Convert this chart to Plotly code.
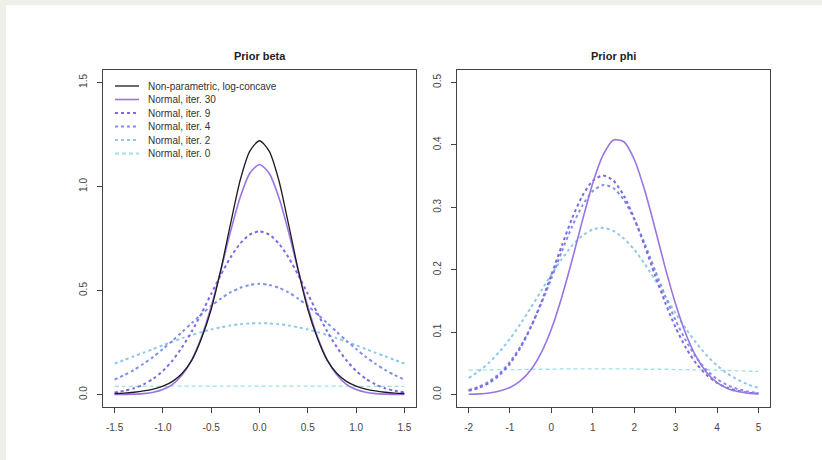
import plotly.graph_objects as go

W, H = 822, 460

# ---------------- data: Prior beta ----------------
BETA_X = [-1.5, -1.4, -1.3, -1.2, -1.1, -1.0, -0.9, -0.8, -0.7, -0.6, -0.5, -0.4, -0.3, -0.2, -0.1, 0.0,
          0.1, 0.2, 0.3, 0.4, 0.5, 0.6, 0.7, 0.8, 0.9, 1.0, 1.1, 1.2, 1.3, 1.4, 1.5]
BETA_NP = [0.005, 0.007, 0.011, 0.017, 0.026, 0.040, 0.063, 0.102, 0.165, 0.27, 0.41, 0.60, 0.82, 1.03, 1.17, 1.22,
           1.17, 1.03, 0.82, 0.60, 0.41, 0.27, 0.165, 0.102, 0.063, 0.040, 0.026, 0.017, 0.011, 0.007, 0.005]
BETA_IT30 = [0.0002, 0.0006, 0.0017, 0.0044, 0.011, 0.024, 0.049, 0.095, 0.168, 0.277, 0.423, 0.598, 0.783, 0.948, 1.064, 1.106,
             1.064, 0.948, 0.783, 0.598, 0.423, 0.277, 0.168, 0.095, 0.049, 0.024, 0.011, 0.0044, 0.0017, 0.0006, 0.0002]
BETA_IT9 = [0.010, 0.018, 0.030, 0.049, 0.076, 0.114, 0.164, 0.228, 0.304, 0.391, 0.484, 0.576, 0.659, 0.726, 0.769, 0.784,
            0.769, 0.726, 0.659, 0.576, 0.484, 0.391, 0.304, 0.228, 0.164, 0.114, 0.076, 0.049, 0.030, 0.018, 0.010]
BETA_IT4 = [0.072, 0.093, 0.118, 0.148, 0.181, 0.219, 0.259, 0.301, 0.344, 0.386, 0.426, 0.461, 0.491, 0.513, 0.527, 0.532,
            0.527, 0.513, 0.491, 0.461, 0.426, 0.386, 0.344, 0.301, 0.259, 0.219, 0.181, 0.148, 0.118, 0.093, 0.072]
BETA_IT2 = [0.149, 0.166, 0.184, 0.201, 0.219, 0.237, 0.254, 0.271, 0.286, 0.300, 0.313, 0.323, 0.332, 0.338, 0.342, 0.343,
            0.342, 0.338, 0.332, 0.323, 0.313, 0.300, 0.286, 0.271, 0.254, 0.237, 0.219, 0.201, 0.184, 0.166, 0.149]
BETA_IT0 = [0.039, 0.039, 0.039, 0.0395, 0.0395, 0.0395, 0.040, 0.040, 0.040, 0.040, 0.040, 0.040, 0.040, 0.040, 0.040, 0.040,
            0.040, 0.040, 0.040, 0.040, 0.040, 0.040, 0.040, 0.040, 0.040, 0.0395, 0.0395, 0.0395, 0.039, 0.039, 0.039]

# ---------------- data: Prior phi ----------------
PHI_X = [-2.0, -1.75, -1.5, -1.25, -1.0, -0.75, -0.5, -0.25, 0.0, 0.25, 0.5, 0.75, 1.0, 1.25, 1.5, 1.75,
         2.0, 2.25, 2.5, 2.75, 3.0, 3.25, 3.5, 3.75, 4.0, 4.25, 4.5, 4.75, 5.0]
PHI_IT30 = [0.0004, 0.0011, 0.0025, 0.0055, 0.0113, 0.0218, 0.0394, 0.0665, 0.105, 0.156, 0.2155, 0.279, 0.339, 0.384, 0.408,
            0.405, 0.377, 0.328, 0.267, 0.203, 0.145, 0.0965, 0.0602, 0.0352, 0.0192, 0.0098, 0.0047, 0.0021, 0.0009]
PHI_IT9 = [0.0059, 0.0108, 0.0188, 0.0313, 0.0495, 0.0747, 0.1074, 0.147, 0.1918, 0.2384, 0.2824, 0.3186, 0.3426, 0.351,
           0.3426, 0.3186, 0.2824, 0.2384, 0.1918, 0.147, 0.1074, 0.0747, 0.0495, 0.0313, 0.0188, 0.0108, 0.0059, 0.0031, 0.0015]
PHI_IT4 = [0.0072, 0.0126, 0.0212, 0.034, 0.0523, 0.0767, 0.1078, 0.1448, 0.1861, 0.2289, 0.2692, 0.303, 0.3261, 0.3358,
           0.3308, 0.3117, 0.281, 0.2423, 0.1999, 0.1577, 0.119, 0.086, 0.0594, 0.0392, 0.0248, 0.015, 0.0087, 0.0048, 0.0025]
PHI_IT2 = [0.0265, 0.0375, 0.0515, 0.0688, 0.0894, 0.1129, 0.1387, 0.1656, 0.1923, 0.2172, 0.2385, 0.2546, 0.2644, 0.267,
           0.262, 0.2501, 0.2322, 0.2095, 0.1839, 0.157, 0.1302, 0.1051, 0.0825, 0.0629, 0.0467, 0.0337, 0.0236, 0.0161, 0.0107]
PHI_IT0 = [0.039, 0.0395, 0.0395, 0.040, 0.040, 0.040, 0.0405, 0.0405, 0.0405, 0.041, 0.041, 0.041, 0.041, 0.041, 0.041,
           0.041, 0.041, 0.0405, 0.0405, 0.0405, 0.040, 0.040, 0.0395, 0.0395, 0.039, 0.0385, 0.038, 0.0375, 0.037]

# ---------------- labels / ticks ----------------
SERIES_NAMES = ["Non-parametric, log-concave", "Normal, iter. 30", "Normal, iter. 9",
                "Normal, iter. 4", "Normal, iter. 2", "Normal, iter. 0"]
PANEL_TITLES = ["Prior beta", "Prior phi"]
BETA_XTICKS = [-1.5, -1.0, -0.5, 0.0, 0.5, 1.0, 1.5]
BETA_XTICKTEXT = ["-1.5", "-1.0", "-0.5", "0.0", "0.5", "1.0", "1.5"]
BETA_YTICKS = [0.0, 0.5, 1.0, 1.5]
BETA_YTICKTEXT = ["0.0", "0.5", "1.0", "1.5"]
PHI_XTICKS = [-2, -1, 0, 1, 2, 3, 4, 5]
PHI_XTICKTEXT = ["-2", "-1", "0", "1", "2", "3", "4", "5"]
PHI_YTICKS = [0.0, 0.1, 0.2, 0.3, 0.4, 0.5]
PHI_YTICKTEXT = ["0.0", "0.1", "0.2", "0.3", "0.4", "0.5"]

# ---------------- styles ----------------
STYLES = {
    "Non-parametric, log-concave": dict(color="#1c1c1c", width=1.3, dash="solid"),
    "Normal, iter. 30": dict(color="#9a74e4", width=1.6, dash="solid"),
    "Normal, iter. 9": dict(color="#7a6ae4", width=2.0, dash="dot"),
    "Normal, iter. 4": dict(color="#7f8fe6", width=2.0, dash="dot"),
    "Normal, iter. 2": dict(color="#8fc8ec", width=2.0, dash="dot"),
    "Normal, iter. 0": dict(color="#9fe0e2", width=1.3, dash="4px,3px"),
}
FONT = "Liberation Sans, Arial, Helvetica, sans-serif"
AXCOL = "#444444"

fig = go.Figure()

beta_series = [("Normal, iter. 0", BETA_IT0), ("Normal, iter. 2", BETA_IT2), ("Normal, iter. 4", BETA_IT4),
               ("Normal, iter. 9", BETA_IT9), ("Normal, iter. 30", BETA_IT30),
               ("Non-parametric, log-concave", BETA_NP)]
phi_series = [("Normal, iter. 0", PHI_IT0), ("Normal, iter. 2", PHI_IT2), ("Normal, iter. 4", PHI_IT4),
              ("Normal, iter. 9", PHI_IT9), ("Normal, iter. 30", PHI_IT30)]

for name, ys in beta_series:
    st = STYLES[name]
    fig.add_trace(go.Scatter(x=BETA_X, y=ys, mode="lines", name=name, showlegend=False,
                             line=dict(color=st["color"], width=st["width"], dash=st["dash"],
                                       shape="spline", smoothing=0.7),
                             xaxis="x", yaxis="y", hoverinfo="skip"))
for name, ys in phi_series:
    st = STYLES[name]
    fig.add_trace(go.Scatter(x=PHI_X, y=ys, mode="lines", name=name, showlegend=False,
                             line=dict(color=st["color"], width=st["width"], dash=st["dash"],
                                       shape="spline", smoothing=0.7),
                             xaxis="x2", yaxis="y2", hoverinfo="skip"))

def px_x(v):
    return v / W

def px_y(v):
    return 1 - v / H

common = dict(showgrid=False, zeroline=False, showline=True, linecolor=AXCOL, linewidth=1,
              mirror=True, ticks="outside", ticklen=5, tickcolor=AXCOL, tickwidth=1,
              tickfont=dict(family=FONT, size=10, color="#444444"), tickmode="array")

ydom = [px_y(407), px_y(70)]
fig.update_layout(
    width=W, height=H, margin=dict(l=0, r=0, t=0, b=0),
    paper_bgcolor="#efefe9", plot_bgcolor="white",
    showlegend=False,
    xaxis=dict(domain=[px_x(103), px_x(416)], range=[-1.62, 1.62], anchor="y",
               tickvals=BETA_XTICKS, ticktext=BETA_XTICKTEXT, ticklabelstandoff=6, **common),
    yaxis=dict(domain=ydom, range=[-0.06, 1.56], anchor="x", tickangle=-90,
               tickvals=BETA_YTICKS, ticktext=BETA_YTICKTEXT, ticklabelstandoff=6, **common),
    xaxis2=dict(domain=[px_x(457), px_x(770)], range=[-2.28, 5.28], anchor="y2",
                tickvals=PHI_XTICKS, ticktext=PHI_XTICKTEXT, ticklabelstandoff=6, **common),
    yaxis2=dict(domain=ydom, range=[-0.02, 0.52], anchor="x2", tickangle=-90,
                tickvals=PHI_YTICKS, ticktext=PHI_YTICKTEXT, ticklabelstandoff=6, **common),
)

shapes = [dict(type="rect", xref="paper", yref="paper", x0=px_x(6), x1=1, y0=0, y1=px_y(5),
               fillcolor="white", line=dict(width=0), layer="below")]
annotations = []

# panel titles
for title, (l, r) in zip(PANEL_TITLES, [(103, 416), (457, 770)]):
    annotations.append(dict(text="<b>" + title + "</b>", xref="paper", yref="paper",
                            x=px_x((l + r) / 2), y=px_y(56), showarrow=False,
                            xanchor="center", yanchor="middle",
                            font=dict(family=FONT, size=11, color="#222222")))

# legend (drawn R-style, without a box)
row_y = [86, 99.5, 113, 126.5, 140, 153.5]
for name, yy in zip(SERIES_NAMES, row_y):
    st = STYLES[name]
    shapes.append(dict(type="line", xref="paper", yref="paper",
                       x0=px_x(115), x1=px_x(139), y0=px_y(yy), y1=px_y(yy),
                       line=dict(color=st["color"], width=st["width"] if st["dash"] == "solid" else 1.8,
                                 dash=st["dash"]), layer="above"))
    annotations.append(dict(text=name, xref="paper", yref="paper", x=px_x(146), y=px_y(yy),
                            showarrow=False, xanchor="left", yanchor="middle",
                            font=dict(family=FONT, size=10, color="#333333")))

fig.update_layout(shapes=shapes, annotations=annotations)
fig.write_html("out.html")
